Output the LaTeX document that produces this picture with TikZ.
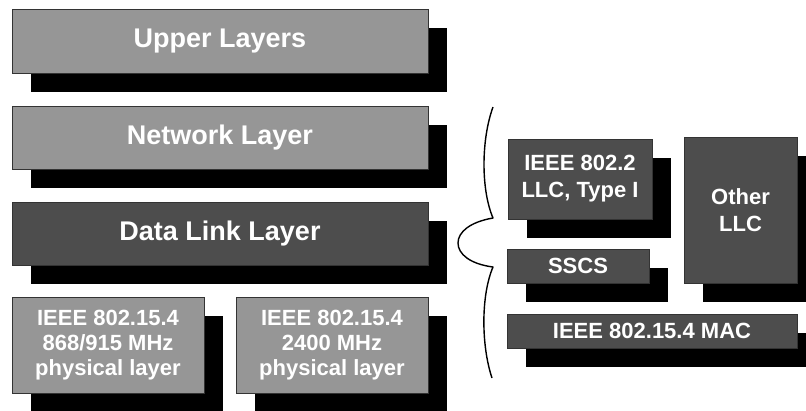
\documentclass[tikz,border=0pt]{standalone}
\usepackage{fontspec}
\setmainfont{Liberation Sans}
\usetikzlibrary{shadows}
\definecolor{lightlayer}{HTML}{969696}
\definecolor{darklayer}{HTML}{4D4D4D}
\definecolor{edgegray}{HTML}{333333}
\tikzset{
  layer/.style={draw=edgegray, line width=0.8pt, inner sep=0pt, text=white,
    font=\bfseries, align=center,
    drop shadow={shadow xshift=19pt, shadow yshift=-19pt, fill=black, opacity=1}},
  lightbox/.style={layer, fill=lightlayer},
  darkbox/.style={layer, fill=darklayer},
  bigtext/.style={font=\bfseries\fontsize{27}{30}\selectfont},
  smalltext/.style={font=\bfseries\fontsize{22}{25}\selectfont},
  righttext/.style={font=\bfseries\fontsize{22}{27}\selectfont},
}
\begin{document}
\begin{tikzpicture}[x=1pt, y=-1pt]
\useasboundingbox[fill=white] (0,0) rectangle (806,410);

% protocol stack on the left
\node[lightbox, bigtext, minimum width=416pt, minimum height=64pt] (up) at (220,41) {Upper Layers};
\node[lightbox, bigtext, minimum width=416pt, minimum height=63pt] (net) at (220,137.5) {Network Layer};
\node[darkbox, bigtext, minimum width=416pt, minimum height=63pt] (dll) at (220,233.5) {Data Link Layer};
\node[lightbox, smalltext, minimum width=192pt, minimum height=96pt] (phyA) at (108,345)
  {IEEE 802.15.4\\868/915 MHz\\physical layer};
\node[lightbox, smalltext, minimum width=192pt, minimum height=96pt] (phyB) at (332,345)
  {IEEE 802.15.4\\2400 MHz\\physical layer};

% brace expanding the data link layer
\draw[line width=1.4pt, line join=round] (493,107)
  .. controls (481,140) and (481,190) .. (493,218)
  .. controls (470,222) and (458,232) .. (458,243)
  .. controls (458,254) and (470,264) .. (493,267)
  .. controls (481,295) and (481,345) .. (492,378);

% sublayers of the data link layer
\node[darkbox, righttext, minimum width=144pt, minimum height=80pt] (llc) at (580,179)
  {IEEE 802.2\\LLC, Type I};
\node[darkbox, righttext, minimum width=113pt, minimum height=146pt] (other) at (740.5,210)
  {Other\\LLC};
\node[darkbox, righttext, minimum width=142pt, minimum height=34pt] (sscs) at (578,266) {SSCS};
\node[darkbox, righttext, minimum width=290pt, minimum height=34pt] (mac) at (652,331) {IEEE 802.15.4 MAC};
\end{tikzpicture}
\end{document}
